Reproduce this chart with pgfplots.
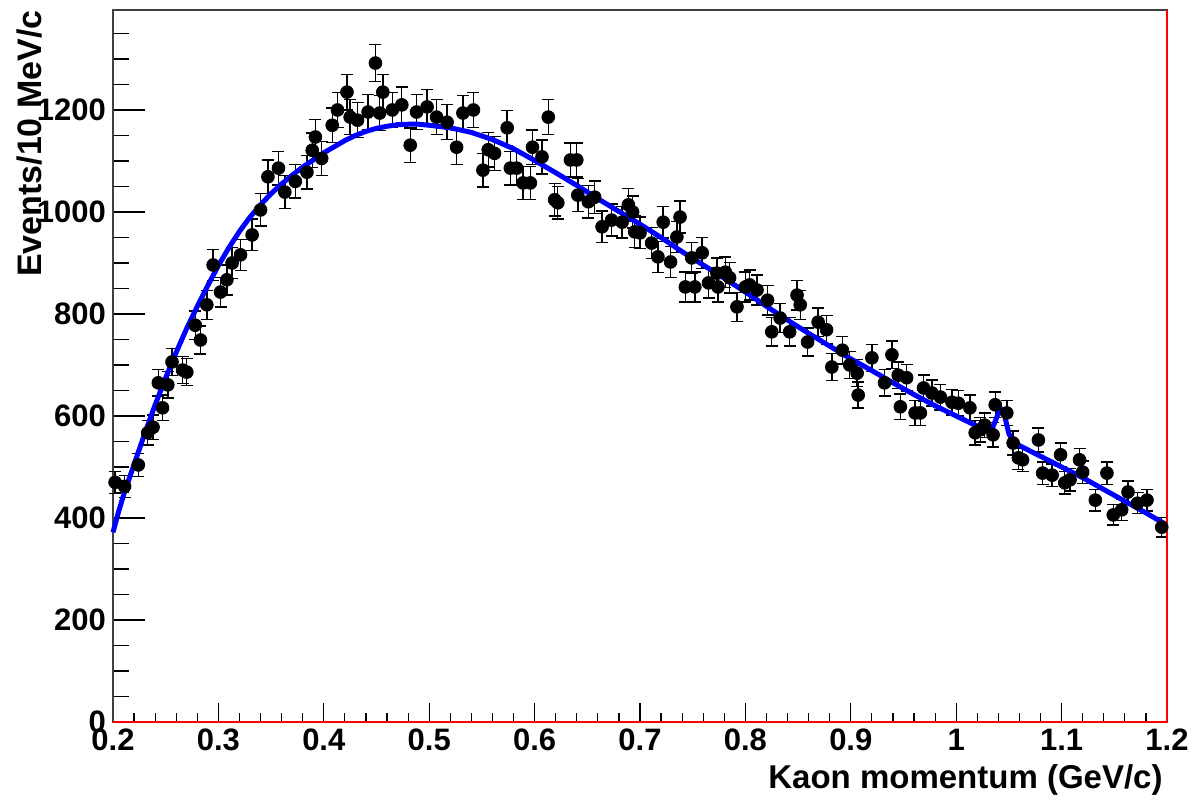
\documentclass[border=0pt]{standalone}
\usepackage{pgfplots}
\usepackage{pgfplotstable}
\pgfplotsset{compat=1.18}
\usepackage{fontspec}
\setmainfont{Liberation Sans}

\pgfplotstableread{
x y e
0.202 470 21.7
0.211 462 21.5
0.224 504 22.4
0.233 567 23.8
0.238 578 24.0
0.243 665 25.8
0.247 616 24.8
0.252 661 25.7
0.256 706 26.6
0.266 690 26.3
0.270 686 26.2
0.278 778 27.9
0.283 749 27.4
0.289 818 28.6
0.295 896 29.9
0.302 843 29.0
0.308 867 29.4
0.313 900 30.0
0.321 916 30.3
0.332 955 30.9
0.340 1004 31.7
0.347 1069 32.7
0.357 1086 33.0
0.363 1039 32.2
0.373 1060 32.6
0.384 1078 32.8
0.389 1121 33.5
0.392 1147 33.9
0.398 1105 33.2
0.408 1170 34.2
0.413 1200 34.6
0.422 1235 35.1
0.425 1186 34.4
0.432 1180 34.4
0.442 1196 34.6
0.449 1292 35.9
0.453 1194 34.6
0.456 1235 35.1
0.465 1200 34.6
0.474 1210 34.8
0.482 1131 33.6
0.488 1196 34.6
0.498 1206 34.7
0.507 1186 34.4
0.517 1176 34.3
0.526 1127 33.6
0.532 1194 34.6
0.542 1200 34.6
0.551 1082 32.9
0.556 1122 33.5
0.562 1115 33.4
0.574 1165 34.1
0.577 1086 33.0
0.583 1086 33.0
0.589 1057 32.5
0.596 1057 32.5
0.598 1127 33.6
0.607 1108 33.3
0.613 1186 34.4
0.619 1024 32.0
0.622 1018 31.9
0.634 1102 33.2
0.640 1102 33.2
0.641 1033 32.1
0.651 1020 31.9
0.657 1029 32.1
0.664 971 31.2
0.673 984 31.4
0.683 980 31.3
0.689 1014 31.8
0.693 1000 31.6
0.695 961 31.0
0.700 959 31.0
0.711 939 30.6
0.717 912 30.2
0.722 980 31.3
0.729 902 30.0
0.735 951 30.8
0.738 990 31.5
0.743 853 29.2
0.749 910 30.2
0.752 853 29.2
0.759 920 30.3
0.765 861 29.3
0.773 880 29.7
0.774 853 29.2
0.781 882 29.7
0.785 871 29.5
0.792 814 28.5
0.800 853 29.2
0.804 857 29.3
0.811 847 29.1
0.821 827 28.8
0.825 765 27.7
0.833 792 28.1
0.842 765 27.7
0.849 837 28.9
0.852 818 28.6
0.859 745 27.3
0.869 784 28.0
0.877 769 27.7
0.882 696 26.4
0.892 729 27.0
0.899 700 26.5
0.906 684 26.2
0.907 641 25.3
0.920 714 26.7
0.932 665 25.8
0.939 720 26.8
0.945 680 26.1
0.947 618 24.9
0.953 675 26.0
0.961 606 24.6
0.966 606 24.6
0.969 655 25.6
0.977 645 25.4
0.985 637 25.2
0.996 627 25.0
1.002 625 25.0
1.013 616 24.8
1.018 567 23.8
1.023 573 23.9
1.027 582 24.1
1.035 563 23.7
1.037 622 24.9
1.048 606 24.6
1.054 547 23.4
1.059 518 22.8
1.063 514 22.7
1.078 553 23.5
1.082 488 22.1
1.091 484 22.0
1.099 524 22.9
1.103 469 21.7
1.108 475 21.8
1.117 514 22.7
1.120 490 22.1
1.132 435 20.9
1.143 488 22.1
1.149 406 20.1
1.157 416 20.4
1.163 451 21.2
1.172 429 20.7
1.181 435 20.9
1.195 382 19.5
}\data

\pgfplotstableread{
x y
0.200 372
0.205 410
0.210 445
0.220 505
0.230 565
0.240 622
0.250 675
0.260 725
0.270 772
0.280 815
0.290 856
0.300 895
0.310 930
0.320 962
0.330 990
0.340 1014
0.350 1036
0.360 1055
0.370 1072
0.380 1088
0.390 1102
0.400 1116
0.410 1128
0.420 1140
0.430 1150
0.440 1158
0.450 1164
0.460 1168
0.470 1171
0.480 1172
0.490 1172
0.500 1170
0.520 1165
0.540 1156
0.560 1142
0.580 1124
0.600 1101
0.620 1077
0.640 1052
0.660 1026
0.680 1001
0.700 976
0.720 950
0.740 922
0.760 896
0.780 870
0.800 843
0.820 815
0.840 788
0.860 762
0.880 737
0.900 712
0.920 689
0.940 665
0.960 642
0.980 620
1.000 600
1.020 580
1.030 570
1.034 574
1.038 595
1.042 616
1.046 600
1.050 565
1.055 548
1.060 542
1.080 521
1.100 500
1.120 479
1.140 456
1.160 433
1.180 410
1.200 386
}\fit

\begin{document}
\begin{tikzpicture}
\path[use as bounding box] (-56.5pt,-41.5pt) rectangle (540pt,361pt);
\begin{axis}[
  scale only axis,
  width=527pt, height=356pt,
  at={(0,0)}, anchor=south west,
  xmin=0.2, xmax=1.2, ymin=0, ymax=1396,
  clip=false,
  axis line style={black!75, line width=0.8pt},
  xtick={0.2,0.3,0.4,0.5,0.6,0.7,0.8,0.9,1.0,1.1,1.2},
  xticklabels={0.2,0.3,0.4,0.5,0.6,0.7,0.8,0.9,1,1.1,1.2},
  minor xtick={0.22,0.24,0.26,0.28,0.32,0.34,0.36,0.38,0.42,0.44,0.46,0.48,0.52,0.54,0.56,0.58,0.62,0.64,0.66,0.68,0.72,0.74,0.76,0.78,0.82,0.84,0.86,0.88,0.92,0.94,0.96,0.98,1.02,1.04,1.06,1.08,1.12,1.14,1.16,1.18},
  ytick={0,200,400,600,800,1000,1200},
  yticklabels={0,200,400,600,800,1000,1200},
  minor ytick={50,100,150,250,300,350,450,500,550,650,700,750,850,900,950,1050,1100,1150,1250,1300,1350},
  xtick pos=bottom, ytick pos=left,
  tick align=inside,
  tick style={black, line width=0.6pt},
  major x tick style={/pgfplots/major tick length=9.5pt},
  minor x tick style={/pgfplots/minor tick length=4.5pt},
  major y tick style={/pgfplots/major tick length=16pt},
  minor y tick style={/pgfplots/minor tick length=8pt},
  ticklabel style={font=\fontsize{15.5}{18}\selectfont\bfseries},
  /pgf/number format/assume math mode=true,
  xlabel={Kaon momentum (GeV/c)},
  xlabel style={at={(rel axis cs:1,0)}, anchor=north east, inner sep=0pt, yshift=-21pt, xshift=-2pt, font=\fontsize{16.5}{19}\selectfont\bfseries},
  ylabel={Events/10 MeV/c},
  ylabel style={at={(axis description cs:-0.0674,1)}, anchor=base east, inner sep=0pt, font=\fontsize{17}{20}\selectfont\bfseries},
]
\addplot[only marks, mark=*, mark size=3.2pt, black, mark options={fill=black},
  error bars/.cd, y dir=both, y explicit,
  error bar style={line width=0.7pt, black},
  error mark options={line width=0.7pt, mark size=3pt, black, rotate=90}]
  table[x=x, y=y, y error=e]{\data};
\addplot[blue, line width=2.5pt, line join=round, no marks] table[x=x, y=y]{\fit};
\draw[red, line width=1pt] (rel axis cs:0,0) -- (rel axis cs:1,0) -- (rel axis cs:1,1);
\end{axis}
\end{tikzpicture}
\end{document}
